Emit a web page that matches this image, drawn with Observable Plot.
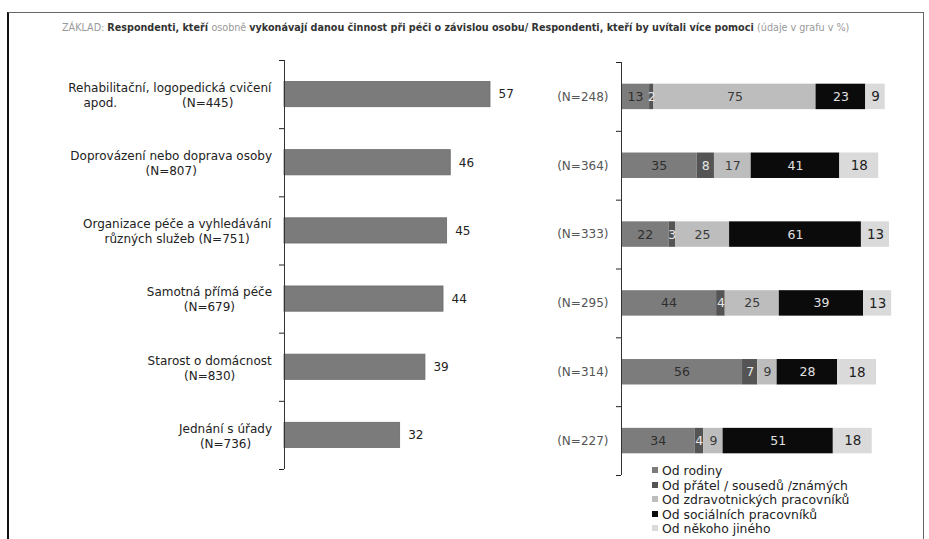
<!DOCTYPE html>
<html><head><meta charset="utf-8">
<script src="https://cdn.jsdelivr.net/npm/d3@7"></script>
<script src="https://cdn.jsdelivr.net/npm/@observablehq/plot@0.6"></script>
<style>
body{margin:0;background:#fff;}
#wrap{position:relative;width:929px;height:539px;overflow:hidden;font-family:"DejaVu Sans",Verdana,sans-serif;background:#fff;}
#frame{position:absolute;left:7px;top:12px;width:914px;height:600px;border-left:2px solid #111;border-top:1px solid #666;border-right:1px solid #666;}
#header{position:absolute;left:62px;top:21px;font-family:"DejaVu Sans Condensed","DejaVu Sans",sans-serif;font-size:10.7px;color:#333;white-space:nowrap;font-weight:bold;}
#header .light{color:#999;font-weight:normal}
#left{position:absolute;left:0;top:0}
#right{position:absolute;left:540px;top:0}
#legend{position:absolute;left:652px;top:464px;font-size:12.4px;color:#222;line-height:14.6px;}
#legend .sw{display:inline-block;width:6px;height:6px;margin-right:4px;vertical-align:2px;}
.catlabel text{white-space:pre;}
</style></head>
<body><div id="wrap">
<div id="frame"></div>
<div id="header"></div>
<div id="left"></div>
<div id="right"></div>
<div id="legend"></div>
</div>
<script>
// ---- data ----
const categories = [
  "Rehabilitační, logopedická cvičení\napod.                 (N=445)      ",
  "Doprovázení nebo doprava osoby\n(N=807)",
  "Organizace péče a vyhledávání\nrůzných služeb (N=751)",
  "Samotná přímá péče\n(N=679)",
  "Starost o domácnost\n(N=830)",
  "Jednání s úřady\n(N=736)"
];
const leftValues = [57, 46, 45, 44, 39, 32];
const rightN = ["(N=248)", "(N=364)", "(N=333)", "(N=295)", "(N=314)", "(N=227)"];
const series = [
  "Od rodiny",
  "Od přátel / sousedů /známých",
  "Od zdravotnických pracovníků",
  "Od sociálních pracovníků",
  "Od někoho jiného"
];
const seriesColors = ["#7c7c7c", "#545454", "#bdbdbd", "#0b0b0b", "#dadada"];
const seriesLabelColors = ["#2e2e2e", "#e6e6e6", "#3a3a3a", "#e0e0e0", "#1e1e1e"];
const fromFamily  = [13, 35, 22, 44, 56, 34];
const fromFriends = [2, 8, 3, 4, 7, 4];
const fromHealth  = [75, 17, 25, 25, 9, 9];
const fromSocial  = [23, 41, 61, 39, 28, 51];
const fromOther   = [9, 18, 13, 13, 18, 18];
const headerParts = [
  ["ZÁKLAD: ", true],
  ["Respondenti, kteří ", false],
  ["osobně ", true],
  ["vykonávají danou činnost při péči o závislou osobu/ Respondenti, kteří by uvítali více pomoci ", false],
  ["(údaje v grafu v %)", true]
];

// ---- header ----
const header = document.getElementById("header");
headerParts.forEach(([t, light]) => {
  const s = document.createElement("span");
  s.textContent = t;
  if (light) s.className = "light";
  header.appendChild(s);
});

// ---- left chart ----
const leftData = categories.map((c, i) => ({row: i, label: c, value: leftValues[i]}));
const half = 0.185;
const leftPlot = Plot.plot({
  width: 540, height: 539,
  marginTop: 60, marginBottom: 70, marginLeft: 284, marginRight: 50,
  style: {fontFamily: "DejaVu Sans, Verdana, sans-serif", fontSize: "12px", color: "#222", background: "transparent"},
  x: {domain: [0, 57], axis: null},
  y: {domain: [0, 6], reverse: true, ticks: d3.range(7), tickSize: 5, tickFormat: () => "", label: null, axis: "left"},
  marks: [
    Plot.rectX(leftData, {x1: 0, x2: "value", y1: d => d.row + 0.5 - half, y2: d => d.row + 0.5 + half, fill: "#7b7b7b", stroke: "#6a6a6a", strokeWidth: 0.8}),
    Plot.ruleX([0], {stroke: "#333", strokeWidth: 1}),
    Plot.text(leftData, {x: "value", y: d => d.row + 0.5, text: d => String(d.value), dx: 8, textAnchor: "start", fill: "#222", fontSize: 12}),
    Plot.text(leftData, {x: 0, y: d => d.row + 0.5, text: "label", textAnchor: "middle", fill: "#222", fontSize: 12, lineHeight: 1.25, className: "catlabel"})
  ]
});
document.getElementById("left").appendChild(leftPlot);
// right-align each label block while keeping its lines centred within the block
const axisX = leftPlot.scale("x").apply(0);
const svgRect = leftPlot.getBoundingClientRect();
leftPlot.querySelectorAll(".catlabel text").forEach(t => {
  const r = t.getBoundingClientRect();
  const rightEdge = r.right - svgRect.left;
  const shift = (axisX - 12) - rightEdge;
  const tr = t.getAttribute("transform") || "";
  t.setAttribute("transform", (tr + ` translate(${shift},0)`).trim());
});

// ---- right chart ----
const cols = [fromFamily, fromFriends, fromHealth, fromSocial, fromOther];
const rightData = [];
rightN.forEach((n, i) => {
  series.forEach((s, k) => rightData.push({row: i, series: s, k, value: cols[k][i]}));
});
const nData = rightN.map((n, i) => ({row: i, n}));
const rightPlot = Plot.plot({
  width: 389, height: 539,
  marginTop: 62, marginBottom: 64, marginLeft: 81, marginRight: 27,
  style: {fontFamily: "DejaVu Sans, Verdana, sans-serif", fontSize: "12px", color: "#222", background: "transparent"},
  x: {domain: [0, 130], axis: null},
  y: {domain: [0, 6], reverse: true, ticks: d3.range(7), tickSize: 5, tickFormat: () => "", label: null, axis: "left"},
  color: {domain: series, range: seriesColors},
  marks: [
    Plot.rectX(rightData, Plot.stackX({x: "value", y1: d => d.row + 0.5 - half, y2: d => d.row + 0.5 + half, fill: "series"})),
    Plot.ruleX([0], {stroke: "#333", strokeWidth: 1}),
    ...series.map((s, k) => Plot.text(rightData, Plot.stackX({
      x: "value", y: d => d.row + 0.5,
      text: d => d.k === k ? String(d.value) : "",
      fill: seriesLabelColors[k], fontSize: k === 4 ? 13.5 : 12.5
    }))),
    Plot.text(nData, {x: 0, y: d => d.row + 0.5, text: "n", dx: -13, textAnchor: "end", fill: "#555", fontSize: 12})
  ]
});
document.getElementById("right").appendChild(rightPlot);

// ---- legend ----
const legend = document.getElementById("legend");
series.forEach((s, k) => {
  const row = document.createElement("div");
  const sw = document.createElement("span");
  sw.className = "sw";
  sw.style.background = seriesColors[k];
  row.appendChild(sw);
  row.appendChild(document.createTextNode(s));
  legend.appendChild(row);
});
</script>
</body></html>
